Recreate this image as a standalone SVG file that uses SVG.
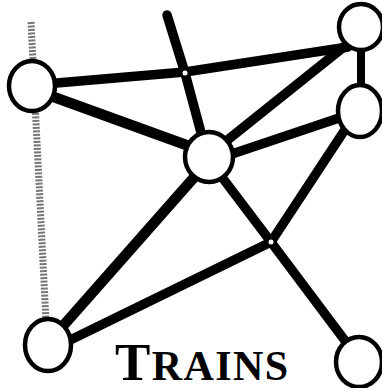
<svg xmlns="http://www.w3.org/2000/svg" width="382" height="388" viewBox="0 0 382 388">
<style>
.edge{fill:none;stroke:#000;stroke-width:9.5;stroke-linecap:round;stroke-linejoin:round}
.node{fill:#fff;stroke:#000;stroke-width:4.5}
.jn{fill:#fff;stroke:none}
.dot{fill:none;stroke:#777;stroke-width:7;stroke-dasharray:2 1.5}
.title{font-family:"Liberation Serif","Times New Roman",serif;font-weight:bold;fill:#000}
</style>
<rect width="382" height="388" fill="#fff"/>
<g id="guide">
<path class="dot" d="M31,22 L46,322"/>
</g>
<g id="connectors">
<path class="edge" d="M45,84 L185,72 L348,47"/>
<path class="edge" style="stroke-width:10.5" d="M40,92 L200,150"/>
<path class="edge" d="M167,15 L185,73 L203,140"/>
<path class="edge" d="M215,150 L350,42"/>
<path class="edge" d="M220,158 L345,116"/>
<path class="edge" style="stroke-width:8" d="M361,45 L361,90"/>
<path class="edge" d="M350,122 L271,242 L60,345"/>
<path class="edge" d="M215,168 L271,242 L352,350"/>
<path class="edge" style="stroke-width:10.5" d="M205,165 L55,335"/>
</g>
<g id="junction1"><circle class="jn" cx="185" cy="73" r="2.5"/></g>
<g id="junction2"><circle class="jn" cx="271" cy="242" r="2.5"/></g>
<g id="n1"><ellipse class="node" cx="32" cy="86" rx="23" ry="25"/></g>
<g id="n2"><ellipse class="node" cx="361" cy="27" rx="22" ry="23"/></g>
<g id="n3"><ellipse class="node" cx="360" cy="111" rx="22" ry="26"/></g>
<g id="n4"><ellipse class="node" cx="209" cy="157" rx="24" ry="25"/></g>
<g id="n5"><ellipse class="node" cx="48" cy="345" rx="23" ry="26"/></g>
<g id="n6"><ellipse class="node" cx="359" cy="362" rx="23" ry="25"/></g>
<g id="label">
<text class="title" x="115" y="380" textLength="173" lengthAdjust="spacing"><tspan font-size="53">T</tspan><tspan font-size="42">RAINS</tspan></text>
</g>
</svg>
